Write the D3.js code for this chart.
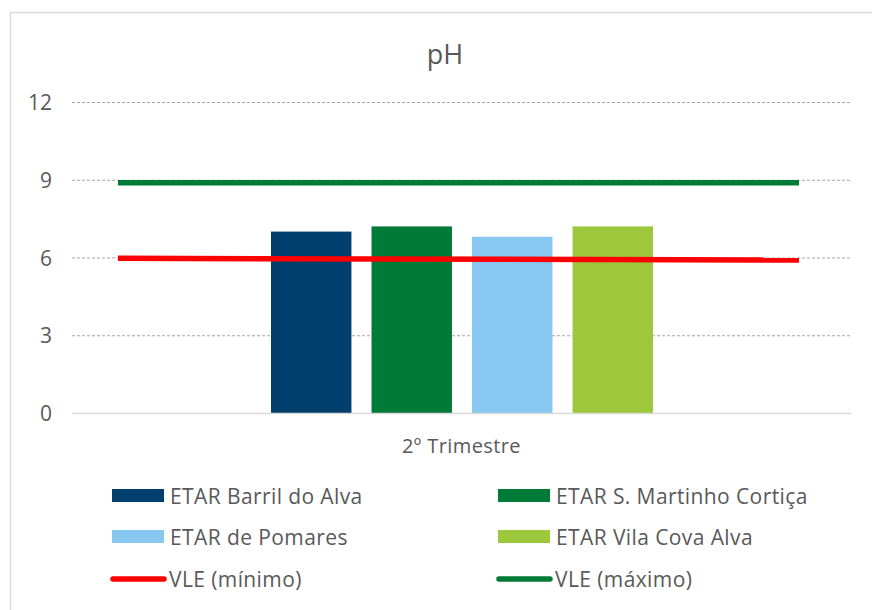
<!DOCTYPE html>
<html>
<head>
<meta charset="utf-8">
<script src="https://cdn.jsdelivr.net/npm/d3@7"></script>
<style>
  body { margin: 0; background: #fff; }
  text { font-family: "Open Sans", "Lato", sans-serif; fill: #595959; }
</style>
</head>
<body>
<script>
var width = 872;
var height = 610;

var category = "2º Trimestre";
var seriesNames = ["ETAR Barril do Alva", "ETAR S. Martinho Cortiça", "ETAR de Pomares", "ETAR Vila Cova Alva"];
var seriesValues = [7.0, 7.2, 6.8, 7.2];
var seriesColors = ["#003f6e", "#007a37", "#88c8f0", "#9dc83c"];
var yTicks = [0, 3, 6, 9, 12];

// limit lines (two points each, start and end)
var vleMin = [5.97, 5.9];
var vleMax = [8.88, 8.88];

var svg = d3.select("body")
  .append("svg")
  .attr("width", width)
  .attr("height", height);

// chart area border
svg.append("rect")
  .attr("x", 10.5).attr("y", 12.5)
  .attr("width", width + 10).attr("height", height + 10)
  .attr("fill", "none")
  .attr("stroke", "#d9d9d9")
  .attr("stroke-width", 1.5);

var plotLeft = 72, plotRight = 851, plotTop = 102, plotBottom = 413;

var y = d3.scaleLinear().domain([0, 12]).range([plotBottom, plotTop]);
var x = d3.scaleBand().domain([category]).range([plotLeft, plotRight]);
var xs = d3.scaleBand().domain(seriesNames).range([271, 653]).paddingInner(0.2);
var xLine = d3.scaleLinear().domain([0, 1]).range([118, 799]);

// title
svg.append("text")
  .attr("x", 445).attr("y", 64)
  .attr("text-anchor", "middle")
  .style("font-size", "27px")
  .text("pH");

// gridlines
svg.append("g")
  .selectAll("line")
  .data(yTicks.filter(function(d) { return d > 0; }))
  .enter().append("line")
    .attr("x1", plotLeft).attr("x2", plotRight)
    .attr("y1", function(d) { return y(d) + 0.5; })
    .attr("y2", function(d) { return y(d) + 0.5; })
    .attr("stroke", "#a6a6a6")
    .attr("stroke-width", 1)
    .attr("stroke-dasharray", "3,2");

// y tick labels
svg.append("g")
  .selectAll("text")
  .data(yTicks)
  .enter().append("text")
    .attr("x", 52)
    .attr("y", function(d) { return y(d) + 8; })
    .attr("text-anchor", "end")
    .style("font-size", "21px")
    .text(function(d) { return d; });

// bars
svg.append("g")
  .selectAll("rect")
  .data(seriesValues)
  .enter().append("rect")
    .attr("x", function(d, i) { return xs(seriesNames[i]); })
    .attr("width", xs.bandwidth())
    .attr("y", function(d) { return y(d); })
    .attr("height", function(d) { return y(0) - y(d); })
    .attr("fill", function(d, i) { return seriesColors[i]; });

// x axis line
svg.append("line")
  .attr("x1", plotLeft).attr("x2", plotRight)
  .attr("y1", plotBottom + 0.5).attr("y2", plotBottom + 0.5)
  .attr("stroke", "#d9d9d9")
  .attr("stroke-width", 1.5);

svg.append("text")
  .attr("x", x(category) + x.bandwidth() / 2)
  .attr("y", 453)
  .attr("text-anchor", "middle")
  .style("font-size", "20px")
  .style("letter-spacing", "0.4px")
  .text(category);

// limit lines
var line = d3.line()
  .x(function(d, i) { return xLine(i); })
  .y(function(d) { return y(d); });

svg.append("path")
  .datum(vleMax)
  .attr("d", line)
  .attr("fill", "none")
  .attr("stroke", "#007a37")
  .attr("stroke-width", 5.5);

svg.append("path")
  .datum(vleMin)
  .attr("d", line)
  .attr("fill", "none")
  .attr("stroke", "#ff0000")
  .attr("stroke-width", 5.5);

// legend
var legendItems = [
  { label: seriesNames[0], color: seriesColors[0], type: "rect" },
  { label: seriesNames[1], color: seriesColors[1], type: "rect" },
  { label: seriesNames[2], color: seriesColors[2], type: "rect" },
  { label: seriesNames[3], color: seriesColors[3], type: "rect" },
  { label: "VLE (mínimo)", color: "#ff0000", type: "line" },
  { label: "VLE (máximo)", color: "#007a37", type: "line" }
];
var colX = [112, 498];
var rowY = [496, 537, 579];

var legend = svg.append("g")
  .selectAll("g")
  .data(legendItems)
  .enter().append("g")
    .attr("transform", function(d, i) {
      return "translate(" + colX[i % 2] + "," + rowY[Math.floor(i / 2)] + ")";
    });

legend.filter(function(d) { return d.type === "rect"; })
  .append("rect")
    .attr("x", 0).attr("y", -7)
    .attr("width", 52).attr("height", 13)
    .attr("fill", function(d) { return d.color; });

legend.filter(function(d) { return d.type === "line"; })
  .append("line")
    .attr("x1", 1).attr("x2", 52)
    .attr("y1", 0).attr("y2", 0)
    .attr("stroke", function(d) { return d.color; })
    .attr("stroke-width", 5.5)
    .attr("stroke-linecap", "round");

legend.append("text")
  .attr("x", function(d) { return d.type === "rect" ? 58 : 57; })
  .attr("y", 7.5)
  .style("font-size", "21px")
  .style("letter-spacing", "0.4px")
  .text(function(d) { return d.label; });
</script>
</body>
</html>
